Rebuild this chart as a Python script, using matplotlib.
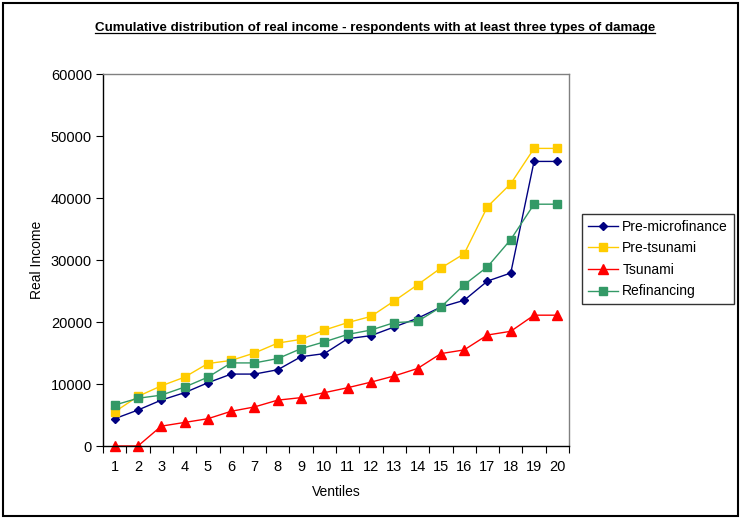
import matplotlib
matplotlib.use("Agg")
import matplotlib.pyplot as plt
from matplotlib.lines import Line2D
from matplotlib.patches import Rectangle

plt.rcParams["font.family"] = ["Liberation Sans", "DejaVu Sans"]

ventiles = list(range(1, 21))
pre_microfinance = [4400, 5800, 7400, 8600, 10200, 11600, 11600, 12300, 14400, 14900,
                    17300, 17800, 19200, 20600, 22400, 23500, 26600, 27900, 45900, 45900]
pre_tsunami = [5500, 8000, 9700, 11100, 13300, 13800, 15000, 16600, 17200, 18700,
               19900, 20900, 23400, 26000, 28700, 31000, 38600, 42300, 48000, 48000]
tsunami = [0, 0, 3200, 3800, 4400, 5600, 6300, 7400, 7800, 8600,
           9400, 10300, 11300, 12500, 14900, 15500, 17900, 18500, 21100, 21100]
refinancing = [6600, 7700, 8200, 9500, 11100, 13400, 13400, 14100, 15700, 16800,
               18000, 18700, 19900, 20100, 22400, 26000, 28900, 33300, 39000, 39000]
y_ticks = [0, 10000, 20000, 30000, 40000, 50000, 60000]

SERIES = [
    ("Pre-microfinance", pre_microfinance, "#000080", "D", 4.5),
    ("Pre-tsunami", pre_tsunami, "#FFCC00", "s", 5.5),
    ("Tsunami", tsunami, "#FF0000", "^", 6.5),
    ("Refinancing", refinancing, "#339966", "s", 5.5),
]

fig = plt.figure(figsize=(7.42, 5.19), dpi=100)
ax = fig.add_axes([103 / 742, 1 - 446 / 519, 466 / 742, 372 / 519])

for label, values, color, marker, ms in SERIES:
    ax.plot(ventiles, values, color=color, marker=marker, markersize=ms,
            linewidth=1.0, label=label, clip_on=False)

ax.set_xlim(0.5, 20.5)
ax.set_ylim(0, 60000)
ax.set_yticks(y_ticks)
ax.set_yticklabels([str(v) for v in y_ticks])
ax.set_xticks(ventiles)
ax.set_xticklabels([str(v) for v in ventiles])
# category axis: tick marks sit between the categories
ax.set_xticks([v + 0.5 for v in range(0, 21)], minor=True)
ax.tick_params(axis="x", which="major", length=0, pad=10, labelsize=10.5)
ax.tick_params(axis="x", which="minor", length=5, width=0.8, direction="out")
ax.tick_params(axis="y", length=5, width=0.8, direction="out", labelsize=10.5, pad=3)

for side in ("left", "bottom"):
    ax.spines[side].set_color("black")
    ax.spines[side].set_linewidth(1.0)
for side in ("top", "right"):
    ax.spines[side].set_color("#808080")
    ax.spines[side].set_linewidth(1.0)

ax.set_ylabel("Real Income", fontsize=10, labelpad=5)
ax.set_xlabel("Ventiles", fontsize=10, labelpad=8)

leg = fig.legend(loc="upper left", bbox_to_anchor=(582 / 742, 1 - 214 / 519),
                 fontsize=10, frameon=True, fancybox=False, edgecolor="black",
                 handlelength=2.2, handletextpad=0.3, labelspacing=0.55,
                 borderpad=0.4, borderaxespad=0)
leg.get_frame().set_linewidth(1.0)

title = fig.text(375 / 742, 1 - 28 / 519,
                 "Cumulative distribution of real income - respondents with at least three types of damage",
                 ha="center", va="center", fontsize=9.6, fontweight="bold")

# underline the title
fig.canvas.draw()
bb = title.get_window_extent().transformed(fig.transFigure.inverted())
fig.add_artist(Line2D([bb.x0, bb.x1], [bb.y0 + 0.002, bb.y0 + 0.002],
                      transform=fig.transFigure, color="black", linewidth=0.9))

# chart border
fig.add_artist(Rectangle((3 / 742, 3 / 519), 735 / 742, 513 / 519,
                         transform=fig.transFigure, fill=False,
                         edgecolor="black", linewidth=1.5))

fig.savefig("out.png", dpi=100)
